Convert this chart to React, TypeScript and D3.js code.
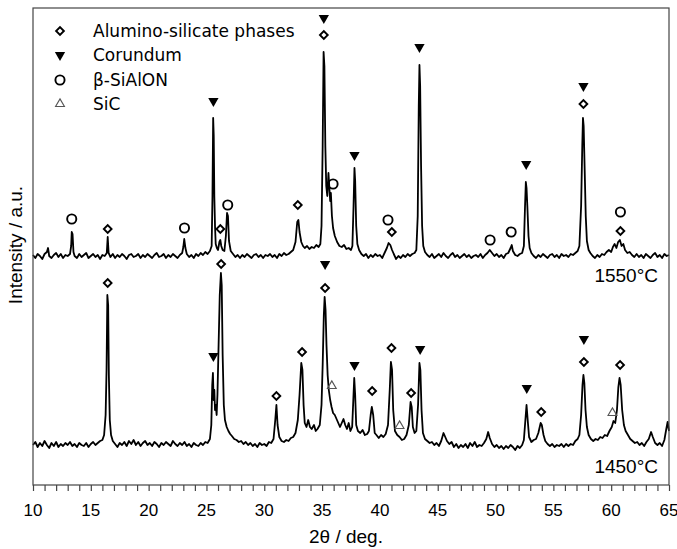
import React, { useEffect, useRef } from 'react';
import * as d3 from 'd3';

// XRD patterns: [2θ (deg), intensity above the pattern's own baseline (a.u.)]
const pattern1550: [number, number][] = [
  [10.0, 1], [10.2, -2], [10.4, 2], [10.6, 0], [10.8, -3], [11.0, 2], [11.2, 4], [11.3, 8], [11.4, 0], [11.6, -2],
  [11.8, 1], [12.0, 3], [12.2, -1], [12.4, 2], [12.6, -2], [12.8, 1], [13.0, 0], [13.2, 2], [13.3, 10], [13.35, 24],
  [13.42, 22], [13.5, 4], [13.6, 0], [13.8, -2], [14.0, 2], [14.2, -1], [14.4, 1], [14.6, 3], [14.8, -2], [15.0, 0],
  [15.2, 2], [15.4, -1], [15.6, 1], [15.8, -3], [16.0, 1], [16.2, 0], [16.38, 3], [16.46, 19], [16.54, 3], [16.7, -1],
  [16.9, 2], [17.1, -2], [17.3, 1], [17.5, -1], [17.7, 2], [17.9, 0], [18.1, -3], [18.3, 1], [18.5, 2], [18.7, -1],
  [18.9, 0], [19.1, 2], [19.3, -2], [19.5, 1], [19.7, -1], [19.9, 2], [20.1, 0], [20.3, -2], [20.5, 1], [20.7, 3],
  [20.9, -1], [21.1, 0], [21.3, 2], [21.5, -2], [21.7, 1], [21.9, -1], [22.1, 2], [22.3, 0], [22.5, -2], [22.7, 1],
  [22.9, 3], [23.0, 9], [23.08, 17], [23.18, 8], [23.3, 2], [23.5, -1], [23.7, 1], [23.9, -2], [24.1, 2], [24.3, 0],
  [24.5, 3], [24.7, 1], [24.9, 4], [25.1, 2], [25.3, 5], [25.45, 10], [25.52, 60], [25.58, 138], [25.63, 120], [25.68, 60],
  [25.74, 30], [25.8, 12], [25.9, 8], [26.0, 6], [26.12, 14], [26.2, 16], [26.28, 10], [26.4, 6], [26.55, 5], [26.68, 20],
  [26.78, 43], [26.86, 40], [26.95, 15], [27.1, 5], [27.3, 2], [27.5, -1], [27.7, 1], [27.9, -2], [28.1, 1], [28.3, -1],
  [28.5, 2], [28.7, 0], [28.9, -2], [29.1, 1], [29.3, 2], [29.5, -1], [29.7, 1], [29.9, -2], [30.1, 1], [30.3, 0],
  [30.5, 2], [30.7, -1], [30.9, 1], [31.1, -2], [31.3, 2], [31.5, 0], [31.7, 3], [31.9, 1], [32.1, 2], [32.3, 4],
  [32.5, 6], [32.7, 14], [32.85, 34], [32.95, 36], [33.05, 24], [33.2, 14], [33.35, 10], [33.5, 8], [33.7, 10], [33.9, 7],
  [34.1, 9], [34.3, 8], [34.5, 11], [34.7, 9], [34.85, 12], [34.95, 30], [35.05, 110], [35.13, 204], [35.2, 190], [35.28, 110],
  [35.36, 70], [35.45, 60], [35.55, 83], [35.62, 70], [35.7, 55], [35.76, 63], [35.85, 40], [35.95, 28], [36.1, 20], [36.3, 14],
  [36.5, 10], [36.7, 9], [36.9, 11], [37.1, 7], [37.3, 8], [37.5, 6], [37.62, 10], [37.72, 50], [37.8, 88], [37.86, 75],
  [37.95, 30], [38.05, 12], [38.2, 6], [38.4, 2], [38.6, 0], [38.8, 2], [39.0, -2], [39.2, 1], [39.4, -1], [39.6, 2],
  [39.8, 0], [40.0, 1], [40.2, -2], [40.4, 3], [40.6, 8], [40.75, 13], [40.9, 11], [41.05, 6], [41.2, 2], [41.4, -3],
  [41.6, 0], [41.8, -2], [42.0, 1], [42.2, -1], [42.4, 2], [42.6, 0], [42.8, 2], [43.0, 3], [43.15, 6], [43.27, 40],
  [43.36, 150], [43.42, 191], [43.48, 170], [43.56, 90], [43.65, 30], [43.75, 10], [43.9, 4], [44.1, 1], [44.3, -1], [44.5, 2],
  [44.7, -2], [44.9, 0], [45.1, 2], [45.3, -1], [45.5, 3], [45.7, 0], [45.9, -2], [46.1, 1], [46.3, 3], [46.5, -1],
  [46.7, 1], [46.9, -2], [47.1, 0], [47.3, 2], [47.5, -1], [47.7, 1], [47.9, -2], [48.1, 0], [48.3, 1], [48.5, -1],
  [48.7, 2], [48.9, -2], [49.1, 1], [49.3, 3], [49.5, 6], [49.7, 3], [49.9, 0], [50.1, 2], [50.3, -1], [50.5, 1],
  [50.7, -2], [50.9, 2], [51.1, 3], [51.3, 8], [51.4, 11], [51.5, 5], [51.7, 1], [51.9, 0], [52.1, 2], [52.3, 3],
  [52.45, 10], [52.55, 50], [52.62, 74], [52.68, 68], [52.75, 50], [52.85, 20], [52.95, 8], [53.1, 3], [53.3, 0], [53.5, -2],
  [53.7, 1], [53.9, -1], [54.1, 2], [54.3, 0], [54.5, -2], [54.7, 1], [54.9, 2], [55.1, -1], [55.3, 1], [55.5, -2],
  [55.7, 2], [55.9, 0], [56.1, 1], [56.3, -1], [56.5, 2], [56.7, 1], [56.9, 3], [57.1, 5], [57.25, 10], [57.4, 50],
  [57.5, 110], [57.56, 138], [57.62, 130], [57.7, 90], [57.8, 40], [57.9, 15], [58.05, 6], [58.2, 3], [58.4, 0], [58.6, -2],
  [58.8, 1], [59.0, -1], [59.2, 2], [59.4, 1], [59.6, 4], [59.8, 6], [60.0, 4], [60.15, 9], [60.3, 12], [60.45, 8],
  [60.6, 14], [60.75, 16], [60.9, 10], [61.05, 12], [61.2, 6], [61.4, 3], [61.6, 4], [61.8, 1], [62.0, -1], [62.2, 2],
  [62.4, -1], [62.6, 1], [62.8, -2], [63.0, 2], [63.2, 0], [63.4, -2], [63.6, 1], [63.8, 3], [64.0, -1], [64.2, 1],
  [64.4, -2], [64.6, 2], [64.8, 0], [65.0, 1],
];

const pattern1450: [number, number][] = [
  [10.0, 0], [10.2, 3], [10.4, -2], [10.6, 2], [10.8, -1], [11.0, 4], [11.2, 0], [11.4, -3], [11.6, 2], [11.8, -1],
  [12.0, 3], [12.2, -2], [12.4, 1], [12.6, -1], [12.8, 2], [13.0, 0], [13.2, 3], [13.4, -1], [13.6, 1], [13.8, -2],
  [14.0, 2], [14.2, 0], [14.4, -1], [14.6, 2], [14.8, -2], [15.0, 1], [15.2, 3], [15.4, 0], [15.6, 2], [15.8, 4],
  [16.0, 5], [16.15, 10], [16.28, 30], [16.36, 75], [16.43, 150], [16.5, 140], [16.56, 70], [16.64, 25], [16.75, 10], [16.9, 4],
  [17.1, 1], [17.3, -2], [17.5, 2], [17.7, 0], [17.9, 3], [18.1, -1], [18.3, 4], [18.5, 1], [18.7, 5], [18.9, 0],
  [19.1, 3], [19.3, -1], [19.5, 2], [19.7, 4], [19.9, 0], [20.1, 2], [20.3, -1], [20.5, 3], [20.7, 1], [20.9, -2],
  [21.1, 2], [21.3, 0], [21.5, 3], [21.7, 1], [21.9, -1], [22.1, 4], [22.3, 1], [22.5, -1], [22.7, 2], [22.9, 0],
  [23.1, 3], [23.3, -1], [23.5, 1], [23.7, -2], [23.9, 2], [24.1, 0], [24.3, -1], [24.5, 2], [24.7, 0], [24.9, 3],
  [25.1, 2], [25.3, 6], [25.42, 20], [25.5, 60], [25.56, 72], [25.62, 45], [25.68, 55], [25.74, 35], [25.8, 40], [25.88, 30],
  [25.95, 50], [26.05, 100], [26.15, 150], [26.25, 172], [26.32, 160], [26.4, 90], [26.5, 40], [26.6, 25], [26.75, 18], [26.9, 14],
  [27.05, 11], [27.2, 9], [27.4, 6], [27.6, 5], [27.8, 3], [28.0, 4], [28.2, 1], [28.4, 3], [28.6, 0], [28.8, 2],
  [29.0, -1], [29.2, 1], [29.4, -2], [29.6, 2], [29.8, 0], [30.0, 1], [30.2, -1], [30.4, 3], [30.6, 2], [30.8, 6],
  [30.95, 25], [31.05, 40], [31.15, 20], [31.3, 8], [31.5, 4], [31.7, 3], [31.9, 5], [32.1, 4], [32.3, 7], [32.5, 8],
  [32.7, 12], [32.9, 25], [33.05, 50], [33.2, 82], [33.3, 75], [33.4, 40], [33.5, 22], [33.65, 18], [33.8, 25], [33.95, 18],
  [34.1, 16], [34.3, 20], [34.45, 14], [34.6, 16], [34.8, 20], [34.95, 40], [35.05, 80], [35.15, 130], [35.22, 148], [35.3, 135],
  [35.38, 100], [35.48, 70], [35.58, 55], [35.7, 45], [35.82, 38], [35.95, 32], [36.1, 30], [36.25, 26], [36.4, 22], [36.55, 18],
  [36.7, 22], [36.85, 26], [37.0, 20], [37.15, 16], [37.3, 22], [37.45, 14], [37.6, 18], [37.7, 45], [37.78, 67], [37.86, 50],
  [37.95, 20], [38.1, 14], [38.3, 12], [38.5, 15], [38.7, 10], [38.9, 11], [39.05, 14], [39.2, 30], [39.3, 38], [39.42, 30],
  [39.55, 12], [39.7, 10], [39.9, 7], [40.1, 10], [40.3, 8], [40.5, 11], [40.7, 20], [40.85, 55], [40.95, 83], [41.05, 75],
  [41.15, 35], [41.3, 14], [41.5, 10], [41.7, 8], [41.9, 5], [42.1, 6], [42.3, 10], [42.5, 20], [42.65, 43], [42.75, 38],
  [42.85, 18], [43.0, 12], [43.15, 14], [43.3, 40], [43.42, 82], [43.5, 75], [43.6, 35], [43.72, 12], [43.9, 6], [44.1, 4],
  [44.3, 2], [44.5, 3], [44.7, 0], [44.9, 2], [45.1, -1], [45.3, 4], [45.5, 12], [45.65, 8], [45.8, 4], [46.0, 1],
  [46.2, 3], [46.4, -2], [46.6, 1], [46.8, -3], [47.0, 0], [47.2, -2], [47.4, 1], [47.6, -3], [47.8, 2], [48.0, -1],
  [48.2, 3], [48.4, -2], [48.6, 0], [48.8, -1], [49.0, 2], [49.2, 6], [49.36, 13], [49.5, 7], [49.7, 1], [49.9, -2],
  [50.1, 0], [50.3, -3], [50.5, -1], [50.7, -4], [50.9, -1], [51.1, -3], [51.3, 0], [51.5, -2], [51.7, -5], [51.9, -1],
  [52.1, -3], [52.3, 0], [52.45, 5], [52.58, 25], [52.68, 40], [52.78, 25], [52.9, 8], [53.1, 3], [53.3, 5], [53.5, 6],
  [53.7, 12], [53.9, 22], [54.0, 20], [54.15, 10], [54.3, 4], [54.5, 1], [54.7, -1], [54.9, 1], [55.1, -2], [55.3, 0],
  [55.5, -1], [55.7, 1], [55.9, -2], [56.1, 1], [56.3, -1], [56.5, 1], [56.7, 0], [56.9, 4], [57.1, 6], [57.25, 10],
  [57.4, 30], [57.52, 60], [57.6, 70], [57.68, 62], [57.78, 35], [57.9, 18], [58.05, 10], [58.25, 6], [58.45, 4], [58.65, 6],
  [58.85, 5], [59.05, 8], [59.25, 7], [59.45, 10], [59.65, 9], [59.85, 14], [60.05, 18], [60.2, 24], [60.35, 22], [60.5, 35],
  [60.62, 58], [60.72, 67], [60.82, 60], [60.95, 35], [61.1, 20], [61.25, 14], [61.45, 10], [61.65, 6], [61.85, 4], [62.05, 2],
  [62.25, 3], [62.45, 0], [62.65, 2], [62.85, -1], [63.05, 3], [63.25, 6], [63.45, 13], [63.6, 8], [63.8, 2], [64.0, 0],
  [64.2, 2], [64.4, -1], [64.6, 5], [64.75, 15], [64.88, 23], [65.0, 14],
];

// baseline level of each pattern on the common intensity axis
const offset1550 = 229;
const offset1450 = 40;

const sampleLabels = ['1550°C', '1450°C'];
const phaseNames = ['Alumino-silicate phases', 'Corundum', 'β-SiAlON', 'SiC'];

// phase markers: [phase index, 2θ, intensity]
const marks1550: [number, number, number][] = [
  [2, 13.35, 266], [0, 16.46, 256], [2, 23.1, 257], [1, 25.6, 384], [0, 26.2, 256],
  [2, 26.84, 280], [0, 32.9, 280], [1, 35.15, 467], [0, 35.15, 450], [2, 35.95, 301],
  [1, 37.8, 330], [2, 40.7, 265], [0, 41.03, 253], [1, 43.42, 438], [2, 49.53, 245],
  [2, 51.35, 253], [1, 52.65, 321], [1, 57.6, 399], [0, 57.6, 381], [2, 60.8, 273], [0, 60.8, 254],
];
const marks1450: [number, number, number][] = [
  [0, 16.46, 202], [1, 25.6, 129], [0, 26.27, 221], [0, 31.05, 89], [0, 33.27, 133],
  [1, 35.26, 221], [0, 35.26, 197], [3, 35.84, 99], [1, 37.8, 120], [0, 39.33, 94],
  [0, 41.0, 137], [3, 41.7, 59], [0, 42.7, 92], [1, 43.48, 136], [1, 52.7, 97],
  [0, 53.95, 73], [1, 57.64, 146], [0, 57.64, 123], [3, 60.11, 72], [0, 60.77, 120],
];

const xTickValues = [10, 15, 20, 25, 30, 35, 40, 45, 50, 55, 60, 65];

const markerPath = (phase: number) => {
  if (phase === 0) return d3.symbol(d3.symbolSquare, 30)();
  if (phase === 1) return d3.symbol(d3.symbolTriangle, 46)();
  if (phase === 2) return d3.symbol(d3.symbolCircle, 66)();
  return d3.symbol(d3.symbolTriangle, 34)();
};

const drawMarker = (g: any, phase: number, cx: number, cy: number) => {
  const rot = phase === 0 ? 45 : phase === 1 ? 180 : 0;
  const p = g.append('path')
    .attr('d', markerPath(phase))
    .attr('transform', `translate(${cx},${cy}) rotate(${rot})`);
  if (phase === 1) p.attr('fill', '#000');
  else if (phase === 3) p.attr('fill', 'none').attr('stroke', '#555').attr('stroke-width', 1.1);
  else p.attr('fill', 'none').attr('stroke', '#000').attr('stroke-width', 1.9);
};

export default function App() {
  const svgRef = useRef<SVGSVGElement>(null);

  useEffect(() => {
    const svg = d3.select(svgRef.current);
    svg.selectAll('*').remove();
    const left = 33, right = 669, top = 8, bottom = 485;

    const x = d3.scaleLinear().domain([10, 65]).range([left, right]);
    const y = d3.scaleLinear().domain([0, 477]).range([bottom, top]);

    const line = (offset: number) =>
      d3.line<[number, number]>()
        .x(d => x(d[0]))
        .y(d => y(offset + d[1]));

    svg.append('path')
      .attr('d', line(offset1550)(pattern1550))
      .attr('fill', 'none').attr('stroke', '#000').attr('stroke-width', 1.8)
      .attr('stroke-linejoin', 'round');
    svg.append('path')
      .attr('d', line(offset1450)(pattern1450))
      .attr('fill', 'none').attr('stroke', '#000').attr('stroke-width', 1.8)
      .attr('stroke-linejoin', 'round');

    const mg = svg.append('g');
    [...marks1550, ...marks1450].forEach(m => drawMarker(mg, m[0], x(m[1]), y(m[2])));

    // frame
    svg.append('rect')
      .attr('x', left).attr('y', top)
      .attr('width', right - left).attr('height', bottom - top)
      .attr('fill', 'none').attr('stroke', '#444').attr('stroke-width', 1.2);

    // bottom axis: minor ticks every degree
    const axis = d3.axisBottom(x).tickValues(d3.range(10, 66, 1)).tickSize(6)
      .tickFormat(() => '');
    const ag = svg.append('g').attr('transform', `translate(0,${bottom})`).call(axis);
    ag.select('.domain').remove();
    ag.selectAll('line').attr('stroke', '#444').attr('stroke-width', 1.2);

    const lg = svg.append('g')
      .attr('font-family', '"Liberation Sans", Arial, sans-serif')
      .attr('font-size', 17).attr('fill', '#000');
    xTickValues.forEach(v => {
      lg.append('text').attr('x', x(v)).attr('y', 516).attr('text-anchor', 'middle').text(v);
    });
    lg.append('text').attr('x', 346).attr('y', 543).attr('text-anchor', 'middle')
      .attr('font-size', 19).text('2θ / deg.');
    lg.append('text')
      .attr('transform', 'translate(22,245) rotate(-90)')
      .attr('text-anchor', 'middle').attr('font-size', 19).text('Intensity / a.u.');
    lg.append('text').attr('x', 658).attr('y', 282).attr('text-anchor', 'end')
      .attr('font-size', 19).text(sampleLabels[0]);
    lg.append('text').attr('x', 658).attr('y', 473).attr('text-anchor', 'end')
      .attr('font-size', 19).text(sampleLabels[1]);

    // legend
    const legY = [31, 55, 80, 104];
    const leg = svg.append('g');
    phaseNames.forEach((name, i) => {
      drawMarker(leg, i, 60, legY[i]);
      leg.append('text').attr('x', 93).attr('y', legY[i]).attr('dy', '0.36em')
        .attr('font-family', '"DejaVu Sans", Verdana, sans-serif').attr('font-size', 17)
        .text(name);
    });
  }, []);

  return (
    <svg ref={svgRef} width={677} height={549}
      style={{ position: 'absolute', left: 0, top: 0, background: '#fff' }} />
  );
}
